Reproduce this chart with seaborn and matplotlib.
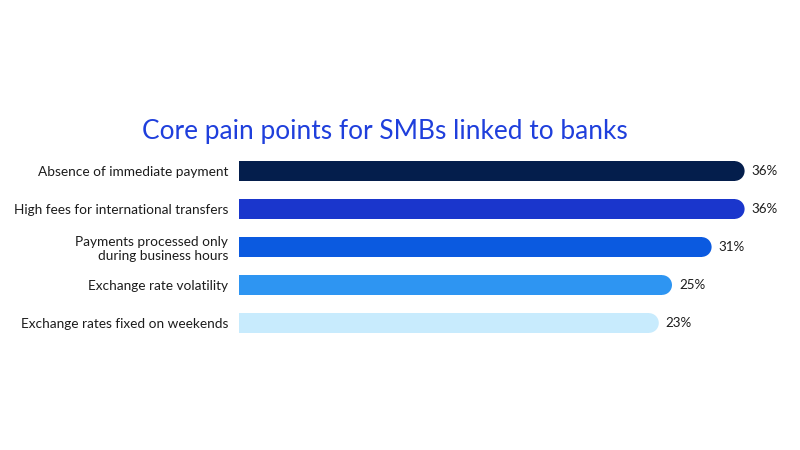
import numpy as np
import pandas as pd
import seaborn as sns
import matplotlib.pyplot as plt
from matplotlib.patches import Ellipse

# data
categories = [
    "Absence of immediate payment",
    "High fees for international transfers",
    "Payments processed only\nduring business hours",
    "Exchange rate volatility",
    "Exchange rates fixed on weekends",
]
shares = [36, 36, 31, 25, 23]
bar_colors = ["#041e4c", "#1a36cc", "#0b5ae0", "#2e95f2", "#c8ebfd"]

TITLE = "Core pain points for SMBs linked to banks"
TITLE_COLOR = "#1f3fdc"
TEXT_COLOR = "#1c1c1c"
BASE = -40.6   # the original bars do not start at zero

sns.set_theme(style="white")
plt.rcParams["font.family"] = ["Lato", "DejaVu Sans"]

df = pd.DataFrame({"category": categories, "share": shares})

fig = plt.figure(figsize=(8, 4.5), dpi=100)
ax = fig.add_axes([239 / 800, 1 - 342 / 450, (777.6 - 239) / 800, 190 / 450])

sns.barplot(data=df, x="share", y="category", hue="category",
            palette=bar_colors, legend=False, width=0.52, ax=ax,
            saturation=1)
ax.set_xlim(BASE, 41)
ax.set_ylim(4.5, -0.5)

# pixel size of one data unit, used to make the round caps circular
fig.canvas.draw()
px_x = ax.transData.transform((1, 0))[0] - ax.transData.transform((0, 0))[0]
px_y = abs(ax.transData.transform((0, 1))[1] - ax.transData.transform((0, 0))[1])

for patch, color in zip(list(ax.patches), bar_colors):
    y0, h = patch.get_y(), patch.get_height()
    end = patch.get_x() + patch.get_width()
    rx = (h * px_y / 2) / px_x
    patch.set_x(BASE)
    patch.set_width(end - rx - BASE)
    patch.set_edgecolor("none")
    ax.add_patch(Ellipse((end - rx, y0 + h / 2), 2 * rx, h,
                         facecolor=color, edgecolor="none"))

for i, v in enumerate(shares):
    ax.text(v + 1.05, i, f"{v}%", va="center", ha="left",
            fontsize=9.6, color=TEXT_COLOR)

ax.set_xlabel("")
ax.set_ylabel("")
ax.set_xticks([])
ax.tick_params(axis="y", length=0, pad=8)
ax.set_yticks(range(len(categories)))
ax.set_yticklabels(categories, fontsize=9.8, color=TEXT_COLOR)
for lab in ax.get_yticklabels():
    lab.set_horizontalalignment("right")
    lab.set_multialignment("right")
sns.despine(ax=ax, left=True, bottom=True)

fig.text(385 / 800, 1 - 131 / 450, TITLE, ha="center", va="center",
         fontsize=18.9, color=TITLE_COLOR)

fig.savefig("out.png", dpi=100, facecolor="white")
